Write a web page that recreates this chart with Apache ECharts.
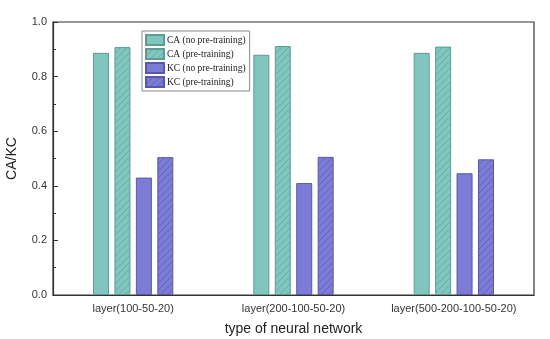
<!DOCTYPE html>
<html>
<head>
<meta charset="utf-8">
<script src="https://cdn.jsdelivr.net/npm/echarts@6/dist/echarts.min.js"></script>
<style>html,body{margin:0;padding:0;background:#fff}#c{width:550px;height:339px}</style>
</head>
<body>
<div id="c"></div>
<script>
const categories = ['layer(100-50-20)', 'layer(200-100-50-20)', 'layer(500-200-100-50-20)'];
const seriesNames = ['CA (no pre-training)', 'CA (pre-training)', 'KC (no pre-training)', 'KC (pre-training)'];
const caNoPre = [0.887, 0.880, 0.887];
const caPre = [0.908, 0.912, 0.910];
const kcNoPre = [0.430, 0.410, 0.446];
const kcPre = [0.505, 0.506, 0.497];
const yTicks = [0, 0.2, 0.4, 0.6, 0.8, 1.0];

function hatch(base, line) {
  const s = 7;
  const cv = document.createElement('canvas');
  cv.width = s; cv.height = s;
  const ctx = cv.getContext('2d');
  ctx.fillStyle = base; ctx.fillRect(0, 0, s, s);
  ctx.strokeStyle = line; ctx.lineWidth = 0.9;
  ctx.beginPath();
  ctx.moveTo(-1, s + 1); ctx.lineTo(s + 1, -1);
  ctx.moveTo(-1, 1); ctx.lineTo(1, -1);
  ctx.moveTo(s - 1, s + 1); ctx.lineTo(s + 1, s - 1);
  ctx.stroke();
  return { image: cv, repeat: 'repeat' };
}

const teal = '#80c6bf', tealB = '#5f9b95', tealH = '#66a9a2';
const purp = '#7c7cd6', purpB = '#5858a6', purpH = '#6060b8';

const styles = [
  { color: teal, borderColor: tealB },
  { color: hatch(teal, tealH), borderColor: tealB },
  { color: purp, borderColor: purpB },
  { color: hatch(purp, purpH), borderColor: purpB }
];
const data = [caNoPre, caPre, kcNoPre, kcPre];

const chart = echarts.init(document.getElementById('c'), null, { renderer: 'canvas' });
chart.setOption({
  animation: false,
  backgroundColor: '#fff',
  grid: { left: 53, right: 16, top: 22, bottom: 44, show: true, borderColor: '#333', borderWidth: 1.2,
    containLabel: false, outerBoundsMode: 'none' },
  legend: {
    orient: 'vertical', left: 142, top: 31,
    icon: 'rect',
    itemWidth: 18, itemHeight: 10, itemGap: 2,
    padding: [3, 4, 3, 3],
    backgroundColor: '#fff', borderColor: '#888', borderWidth: 1,
    textStyle: { fontFamily: 'Liberation Serif', fontSize: 9.5, color: '#222', padding: [0, 0, 0, -2] },
    data: seriesNames
  },
  xAxis: {
    type: 'category', data: categories,
    axisLine: { lineStyle: { color: '#333', width: 1.2 } },
    axisTick: { show: false },
    axisLabel: { interval: 0, fontFamily: 'Liberation Sans', fontSize: 11, color: '#333', margin: 8 },
    name: 'type of neural network', nameLocation: 'middle', nameGap: 27,
    nameTextStyle: { fontFamily: 'Liberation Sans', fontSize: 14, color: '#222' }
  },
  yAxis: {
    type: 'value', min: 0, max: 1, interval: 0.2,
    axisLine: { show: true, lineStyle: { color: '#333', width: 1.2 } },
    axisTick: { show: true, inside: true, length: 5, lineStyle: { color: '#333' } },
    minorTick: { show: true, splitNumber: 2, length: 3, lineStyle: { color: '#333' } },
    splitLine: { show: false },
    axisLabel: { fontFamily: 'Liberation Sans', fontSize: 11, color: '#333', margin: 6,
      formatter: v => yTicks.some(t => Math.abs(t - v) < 1e-9) ? v.toFixed(1) : '' },
    name: 'CA/KC', nameLocation: 'middle', nameGap: 34,
    nameTextStyle: { fontFamily: 'Liberation Sans', fontSize: 14, color: '#222' }
  },
  series: seriesNames.map((n, i) => ({
    name: n, type: 'bar', data: data[i],
    barWidth: 16, barGap: '34%',
    itemStyle: Object.assign({ borderWidth: 1 }, styles[i])
  }))
});
</script>
</body>
</html>
